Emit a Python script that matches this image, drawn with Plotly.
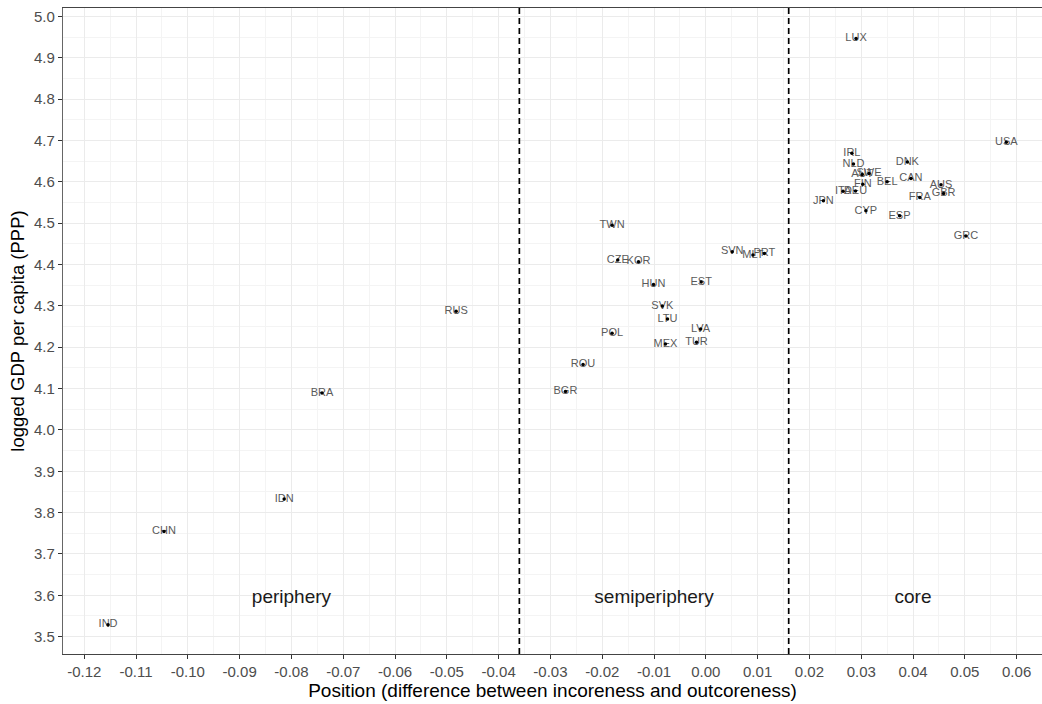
import plotly.graph_objects as go

countries = ["LUX", "USA", "IRL", "NLD", "DNK", "AUT", "SWE", "BEL", "CAN", "FIN",
             "ITA", "DEU", "JPN", "CYP", "ESP", "FRA", "AUS", "GBR", "GRC",
             "TWN", "CZE", "KOR", "HUN", "EST", "SVN", "MLT", "PRT", "SVK", "LTU",
             "LVA", "POL", "MEX", "TUR", "ROU", "BGR",
             "RUS", "BRA", "IDN", "CHN", "IND"]
position = [0.0290, 0.0580, 0.0282, 0.0285, 0.0389, 0.0302, 0.0315, 0.0350, 0.0396, 0.0303,
            0.0265, 0.0289, 0.0227, 0.0309, 0.0374, 0.0413, 0.0454, 0.0459, 0.0502,
            -0.0181, -0.0170, -0.0130, -0.0101, -0.0009, 0.0051, 0.0091, 0.0113, -0.0084, -0.0074,
            -0.0010, -0.0181, -0.0078, -0.0018, -0.0237, -0.0271,
            -0.0482, -0.0741, -0.0814, -0.1046, -0.1154]
gdp = [4.947, 4.696, 4.669, 4.643, 4.648, 4.618, 4.620, 4.600, 4.608, 4.594,
       4.577, 4.578, 4.554, 4.530, 4.518, 4.562, 4.593, 4.572, 4.469,
       4.495, 4.411, 4.407, 4.352, 4.358, 4.431, 4.423, 4.427, 4.300, 4.268,
       4.244, 4.234, 4.208, 4.212, 4.158, 4.093,
       4.287, 4.089, 3.833, 3.754, 3.529]

boundaries = [-0.036, 0.016]
region_names = ["periphery", "semiperiphery", "core"]
region_x = [-0.080, -0.010, 0.040]
region_y = [3.592, 3.592, 3.592]

x_ticks = [round(-0.12 + 0.01 * i, 2) for i in range(19)]
x_ticklabels = ["%.2f" % v for v in x_ticks]
y_ticks = [round(3.5 + 0.1 * i, 1) for i in range(16)]
y_ticklabels = ["%.1f" % v for v in y_ticks]

FONT = "Liberation Sans, Arial, sans-serif"

fig = go.Figure()

fig.add_trace(go.Scatter(
    x=position, y=gdp, mode="text", text=countries,
    textfont=dict(family=FONT, size=11, color="#5a5a5a"),
    textposition="middle center", hoverinfo="skip", showlegend=False))

fig.add_trace(go.Scatter(
    x=position, y=gdp, mode="markers",
    marker=dict(color="black", size=3.5), showlegend=False))

fig.add_trace(go.Scatter(
    x=region_x, y=region_y, mode="text", text=region_names,
    textfont=dict(family=FONT, size=19, color="#1a1a1a"),
    textposition="middle center", hoverinfo="skip", showlegend=False))

for b in boundaries:
    fig.add_vline(x=b, line=dict(color="black", width=1.7, dash="6px,4px"))

fig.update_layout(
    width=1042, height=704,
    margin=dict(l=63, r=0, t=8, b=50),
    paper_bgcolor="white", plot_bgcolor="white",
    font=dict(family=FONT, color="#4d4d4d"),
    xaxis=dict(
        range=[-0.1241, 0.0649], tickvals=x_ticks, ticktext=x_ticklabels,
        tickfont=dict(size=15, color="#4d4d4d"),
        ticks="outside", ticklen=4, tickcolor="#333333", tickwidth=1,
        showgrid=True, gridcolor="#ebebeb", gridwidth=1.2,
        minor=dict(dtick=0.005, tick0=0.0, showgrid=True, gridcolor="#f4f4f4", gridwidth=0.8),
        showline=True, linecolor="#444444", linewidth=1.2, mirror=True,
        zeroline=False,
        title=dict(text="Position (difference between incoreness and outcoreness)",
                   font=dict(size=19, color="black"), standoff=4),
    ),
    yaxis=dict(
        range=[3.458, 5.0205], tickvals=y_ticks, ticktext=y_ticklabels,
        tickfont=dict(size=15, color="#4d4d4d"),
        ticks="outside", ticklen=4, tickcolor="#333333", tickwidth=1,
        showgrid=True, gridcolor="#ebebeb", gridwidth=1.2,
        minor=dict(dtick=0.05, tick0=3.5, showgrid=True, gridcolor="#f4f4f4", gridwidth=0.8),
        showline=True, linecolor="#666666", linewidth=1.2, mirror=False,
        zeroline=False,
        title=dict(text="logged GDP per capita (PPP)",
                   font=dict(size=18.5, color="black"), standoff=4),
    ),
)

fig.write_html("out.html")
